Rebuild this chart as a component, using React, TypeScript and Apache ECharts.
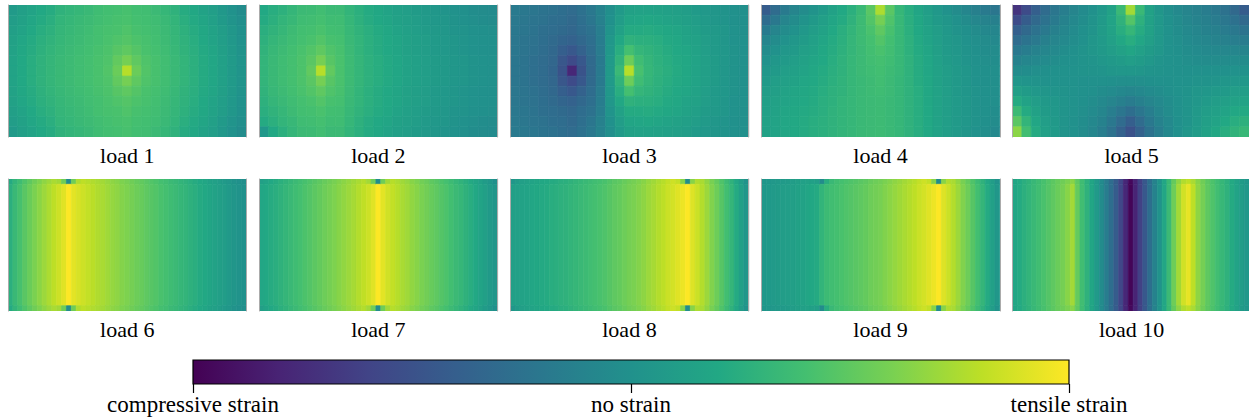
import React, { useEffect, useRef } from "react";
import * as echarts from "echarts";

// ---------- data (strain, -100 = compressive max, 0 = none, 100 = tensile max) ----------
const LOAD_LABELS = ["load 1", "load 2", "load 3", "load 4", "load 5", "load 6", "load 7", "load 8", "load 9", "load 10"];
const COLORBAR_TICKS = [-100, 0, 100];
const COLORBAR_LABELS = ["compressive strain", "no strain", "tensile strain"];
const VIRIDIS = ["#440154", "#482475", "#414487", "#355f8d", "#2a788e", "#21918c", "#22a884", "#44bf70", "#7ad151", "#bddf26", "#fde725"];

// 2-D fields (13 rows x 25 columns, top row first)
const LOAD1 = [
  [8, 12, 16, 20, 23, 28, 30, 32, 34, 37, 39, 40, 41, 39, 38, 35, 32, 28, 23, 19, 15, 11, 6, 1, -4],
  [10, 14, 18, 22, 25, 30, 32, 34, 36, 38, 40, 41, 42, 40, 39, 37, 34, 30, 25, 21, 17, 13, 8, 3, -2],
  [12, 16, 20, 24, 27, 31, 33, 35, 37, 40, 41, 42, 44, 41, 40, 38, 35, 31, 27, 23, 19, 15, 10, 5, 0],
  [14, 18, 22, 26, 29, 32, 34, 36, 38, 40, 42, 44, 46, 43, 41, 39, 36, 32, 28, 24, 20, 16, 11, 6, 1],
  [15, 19, 23, 27, 30, 33, 35, 37, 39, 41, 43, 47, 50, 46, 42, 40, 37, 33, 29, 25, 21, 17, 12, 7, 2],
  [16, 20, 24, 28, 31, 34, 36, 38, 40, 42, 44, 51, 58, 50, 44, 41, 38, 34, 30, 26, 22, 18, 13, 8, 3],
  [16, 20, 24, 28, 31, 34, 36, 38, 40, 42, 45, 54, 78, 54, 45, 41, 38, 34, 30, 26, 22, 18, 13, 8, 3],
  [16, 20, 24, 28, 31, 34, 36, 38, 40, 42, 44, 51, 58, 50, 44, 41, 38, 34, 30, 26, 22, 18, 13, 8, 3],
  [15, 19, 23, 27, 30, 33, 35, 37, 39, 41, 43, 47, 50, 46, 42, 40, 37, 33, 29, 25, 21, 17, 12, 7, 2],
  [14, 18, 22, 26, 29, 32, 34, 36, 38, 40, 42, 44, 46, 43, 41, 39, 36, 32, 28, 24, 20, 16, 11, 6, 1],
  [12, 16, 20, 24, 27, 31, 33, 35, 37, 40, 41, 42, 44, 41, 40, 38, 35, 31, 27, 23, 19, 15, 10, 5, 0],
  [10, 14, 18, 22, 25, 30, 32, 34, 36, 38, 40, 41, 42, 40, 39, 37, 34, 30, 25, 21, 17, 13, 8, 3, -2],
  [8, 12, 16, 20, 23, 28, 30, 32, 34, 37, 39, 40, 41, 39, 38, 35, 32, 28, 23, 19, 15, 11, 6, 1, -4],
];

const LOAD2 = [
  [20, 24, 27, 31, 35, 36, 38, 35, 35, 30, 26, 22, 19, 16, 13, 11, 9, 7, 5, 3, 1, -1, -3, -4, -5],
  [22, 26, 30, 33, 37, 38, 40, 37, 37, 32, 27, 23, 20, 17, 14, 12, 10, 8, 6, 4, 2, 0, -2, -3, -4],
  [25, 29, 32, 36, 39, 40, 42, 39, 38, 33, 29, 25, 22, 19, 16, 13, 11, 9, 7, 5, 3, 2, 0, -1, -2],
  [27, 31, 34, 37, 40, 42, 45, 41, 40, 34, 30, 26, 23, 20, 17, 14, 12, 10, 8, 6, 4, 3, 1, 0, -1],
  [29, 33, 36, 39, 42, 45, 50, 44, 41, 35, 30, 26, 23, 20, 17, 14, 12, 10, 8, 6, 4, 3, 1, 0, -1],
  [30, 34, 37, 40, 43, 48, 58, 47, 42, 36, 31, 27, 24, 21, 18, 15, 13, 11, 9, 7, 5, 4, 2, 1, 0],
  [30, 34, 37, 40, 43, 51, 78, 51, 42, 36, 31, 27, 24, 21, 18, 15, 13, 11, 9, 7, 5, 4, 2, 1, 0],
  [30, 34, 37, 40, 43, 48, 58, 47, 42, 36, 31, 27, 24, 21, 18, 15, 13, 11, 9, 7, 5, 4, 2, 1, 0],
  [29, 33, 36, 39, 42, 45, 50, 44, 41, 35, 30, 26, 23, 20, 17, 14, 12, 10, 8, 6, 4, 3, 1, 0, -1],
  [27, 31, 34, 37, 40, 42, 45, 41, 40, 34, 30, 26, 23, 20, 17, 14, 12, 10, 8, 6, 4, 3, 1, 0, -1],
  [25, 29, 32, 36, 39, 40, 42, 39, 38, 33, 29, 25, 22, 19, 16, 13, 11, 9, 7, 5, 3, 2, 0, -1, -2],
  [22, 26, 30, 33, 37, 38, 40, 37, 37, 32, 27, 23, 20, 17, 14, 12, 10, 8, 6, 4, 2, 0, -2, -3, -4],
  [6, 20, 26, 31, 35, 36, 38, 35, 35, 30, 26, 22, 19, 16, 13, 11, 9, 7, 5, 3, 1, -1, -3, -4, -5],
];

const LOAD3 = [
  [-18, -20, -22, -24, -26, -28, -30, -26, -20, -12, -2, 8, 14, 15, 15, 14, 13, 12, 10, 8, 6, 4, 2, 0, -1],
  [-19, -21, -23, -25, -28, -29, -32, -27, -22, -13, 0, 10, 17, 18, 19, 17, 16, 14, 12, 10, 8, 5, 3, 0, -1],
  [-20, -22, -24, -27, -29, -31, -34, -29, -25, -15, 3, 14, 22, 22, 23, 21, 19, 17, 15, 12, 9, 7, 4, 1, -1],
  [-21, -23, -25, -28, -31, -35, -38, -33, -27, -16, 5, 19, 28, 26, 26, 24, 21, 19, 16, 14, 10, 8, 4, 1, 0],
  [-21, -23, -26, -29, -33, -40, -45, -38, -29, -17, 6, 24, 40, 31, 29, 26, 23, 20, 18, 15, 11, 8, 5, 2, 0],
  [-22, -24, -27, -30, -34, -46, -55, -45, -31, -18, 8, 29, 55, 37, 31, 27, 24, 21, 19, 16, 12, 9, 5, 2, 0],
  [-22, -24, -27, -30, -35, -49, -78, -49, -32, -18, 8, 34, 78, 41, 32, 28, 25, 22, 19, 16, 12, 9, 5, 2, 0],
  [-22, -24, -27, -30, -34, -46, -55, -45, -31, -18, 8, 29, 55, 37, 31, 27, 24, 21, 19, 16, 12, 9, 5, 2, 0],
  [-21, -23, -26, -29, -33, -40, -45, -38, -29, -17, 6, 24, 40, 31, 29, 26, 23, 20, 18, 15, 11, 8, 5, 2, 0],
  [-21, -23, -25, -28, -31, -35, -38, -33, -27, -16, 5, 19, 28, 26, 26, 24, 21, 19, 16, 14, 10, 8, 4, 1, 0],
  [-20, -22, -24, -27, -29, -31, -34, -29, -25, -15, 3, 14, 22, 22, 23, 21, 19, 17, 15, 12, 9, 7, 4, 1, -1],
  [-19, -21, -23, -25, -28, -29, -32, -27, -22, -13, 0, 10, 17, 18, 19, 17, 16, 14, 12, 10, 8, 5, 3, 0, -1],
  [-18, -20, -22, -24, -26, -28, -30, -26, -20, -12, -2, 8, 14, 15, 15, 14, 13, 12, 10, 8, 6, 4, 2, 0, -1],
];

const LOAD4 = [
  [-42, -30, -18, -10, -4, 2, 8, 14, 20, 26, 34, 48, 75, 48, 32, 24, 17, 11, 6, 1, -4, -9, -14, -18, -22],
  [-30, -20, -10, -4, 2, 7, 12, 17, 22, 28, 36, 45, 58, 44, 33, 25, 19, 13, 8, 4, 0, -4, -8, -11, -14],
  [-18, -10, -4, 1, 6, 10, 15, 20, 25, 30, 36, 42, 50, 41, 33, 26, 20, 15, 10, 6, 2, -1, -4, -7, -9],
  [-10, -4, 1, 5, 9, 13, 17, 22, 26, 31, 36, 40, 45, 39, 33, 27, 21, 16, 11, 7, 4, 1, -2, -4, -6],
  [-4, 1, 5, 8, 12, 15, 19, 23, 27, 31, 35, 39, 42, 38, 33, 27, 22, 17, 12, 8, 5, 2, -1, -3, -4],
  [1, 5, 8, 11, 14, 17, 20, 24, 28, 32, 35, 38, 40, 37, 33, 28, 23, 18, 13, 9, 6, 3, 0, -2, -3],
  [5, 8, 11, 13, 16, 19, 22, 25, 28, 32, 35, 37, 39, 36, 33, 28, 23, 18, 14, 10, 7, 4, 1, -1, -2],
  [8, 11, 13, 15, 18, 20, 23, 26, 29, 32, 34, 36, 38, 35, 32, 28, 23, 19, 14, 10, 7, 4, 1, -1, -2],
  [10, 12, 15, 17, 19, 21, 24, 27, 29, 32, 34, 36, 37, 35, 32, 28, 24, 19, 15, 11, 7, 4, 2, 0, -2],
  [12, 14, 16, 18, 20, 22, 25, 27, 30, 32, 34, 35, 36, 34, 32, 28, 24, 19, 15, 11, 8, 5, 2, 0, -2],
  [13, 15, 17, 19, 21, 23, 25, 28, 30, 32, 34, 35, 36, 34, 32, 28, 24, 20, 15, 11, 8, 5, 2, 0, -3],
  [14, 16, 18, 20, 22, 24, 26, 28, 30, 32, 34, 35, 36, 34, 32, 28, 24, 20, 15, 11, 8, 5, 2, -1, -4],
  [14, 16, 18, 20, 22, 24, 26, 28, 30, 32, 34, 35, 36, 34, 32, 28, 24, 20, 15, 11, 8, 4, 1, -2, -6],
];

const LOAD5 = [
  [-70, -55, -40, -30, -22, -15, -10, -5, 0, 6, 14, 34, 72, 34, 14, 4, -2, -6, -10, -13, -16, -20, -25, -32, -42],
  [-55, -42, -32, -25, -18, -12, -7, -3, 2, 8, 16, 28, 46, 27, 14, 6, 0, -4, -8, -11, -14, -17, -21, -26, -32],
  [-40, -32, -25, -19, -14, -9, -5, -1, 3, 9, 15, 24, 32, 23, 14, 6, 1, -3, -6, -9, -12, -14, -17, -20, -24],
  [-30, -24, -19, -14, -10, -6, -3, 0, 4, 8, 13, 19, 24, 18, 12, 6, 1, -2, -5, -7, -9, -11, -13, -15, -17],
  [-20, -16, -12, -9, -6, -3, -1, 2, 4, 7, 10, 14, 17, 13, 9, 5, 1, -1, -3, -5, -6, -7, -8, -9, -10],
  [-12, -9, -7, -5, -3, -1, 0, 2, 3, 5, 7, 9, 11, 9, 6, 3, 1, 0, -2, -3, -4, -4, -4, -4, -4],
  [-4, -3, -2, -1, 0, 1, 1, 2, 2, 3, 4, 5, 5, 4, 3, 2, 1, 0, 0, 0, 0, 0, 0, 1, 1],
  [4, 3, 2, 1, 1, 1, 1, 0, 0, 0, -1, -2, -2, -2, -1, 0, 0, 1, 1, 2, 2, 3, 4, 5, 6],
  [12, 9, 6, 4, 3, 2, 1, 0, -1, -3, -5, -7, -9, -7, -5, -3, -1, 1, 2, 4, 5, 7, 8, 10, 11],
  [22, 15, 10, 7, 5, 3, 1, -1, -3, -6, -10, -14, -17, -14, -10, -6, -3, 0, 3, 5, 8, 10, 12, 14, 16],
  [35, 22, 14, 9, 6, 3, 1, -2, -5, -9, -15, -22, -28, -22, -15, -9, -4, 0, 3, 7, 10, 13, 16, 19, 21],
  [48, 30, 18, 11, 7, 3, 0, -3, -7, -12, -20, -30, -40, -30, -20, -12, -6, -1, 3, 8, 12, 16, 20, 24, 27],
  [65, 38, 22, 13, 8, 3, 0, -4, -9, -15, -25, -38, -50, -38, -25, -15, -7, -1, 4, 9, 14, 19, 24, 29, 33],
];

// 1-D profiles (49 columns) for the body of loads 6-10 ...
const LOAD6 = [26, 34, 41, 48, 54, 60, 65, 70, 75, 80, 85, 91, 100, 92, 88, 85, 82, 79, 76, 74, 71, 68, 66, 63, 61, 58, 55, 53, 50, 47, 45, 42, 40, 37, 35, 32, 30, 27, 25, 22, 20, 17, 15, 12, 10, 7, 4, 2, 0];
const LOAD7 = [18, 20, 23, 25, 28, 31, 34, 37, 40, 43, 46, 49, 52, 55, 58, 61, 64, 67, 70, 73, 77, 81, 85, 91, 100, 92, 86, 82, 78, 74, 71, 67, 64, 60, 57, 53, 50, 46, 43, 39, 35, 32, 28, 24, 20, 16, 12, 8, 4];
const LOAD8 = [12, 13, 15, 16, 18, 19, 21, 22, 24, 25, 27, 28, 30, 32, 34, 36, 38, 40, 42, 44, 47, 50, 52, 55, 58, 60, 63, 66, 70, 73, 77, 80, 84, 87, 91, 95, 100, 90, 84, 77, 70, 62, 55, 47, 39, 31, 22, 13, 5];
const LOAD9 = [6, 7, 8, 9, 10, 11, 12, 14, 15, 17, 19, 22, 30, 36, 38, 40, 42, 44, 46, 48, 50, 52, 55, 57, 59, 62, 65, 68, 71, 74, 77, 80, 84, 87, 91, 95, 100, 90, 84, 77, 70, 62, 55, 47, 39, 31, 22, 13, 5];
const LOAD10 = [18, 22, 26, 30, 34, 38, 42, 46, 50, 54, 58, 64, 72, 52, 38, 28, 18, 8, -4, -16, -28, -42, -58, -78, -98, -80, -62, -45, -28, -12, 2, 18, 35, 55, 72, 86, 93, 80, 66, 58, 50, 44, 38, 33, 28, 22, 16, 10, 6];
// ... and for their thin top / bottom edge strips (with the support points)
const EDGE6 = [22, 30, 37, 44, 50, 56, 61, 66, 70, 74, 72, 56, -4, 56, 76, 80, 78, 76, 74, 72, 69, 66, 64, 61, 59, 56, 53, 51, 48, 45, 43, 40, 38, 35, 33, 30, 28, 25, 23, 20, 18, 15, 13, 10, 8, 5, 2, 0, -2];
const EDGE7 = [12, 16, 20, 23, 26, 29, 32, 35, 38, 41, 44, 47, 50, 53, 56, 59, 62, 65, 68, 71, 74, 77, 72, 56, -4, 56, 72, 78, 75, 71, 68, 64, 61, 57, 54, 50, 47, 43, 40, 36, 32, 29, 25, 21, 17, 13, 9, 5, 0];
const EDGE8 = [4, 9, 12, 14, 16, 17, 19, 20, 22, 23, 25, 26, 28, 30, 32, 34, 36, 38, 40, 42, 45, 48, 50, 53, 56, 58, 61, 64, 68, 71, 75, 78, 82, 85, 82, 64, -4, 64, 76, 74, 67, 59, 52, 44, 36, 28, 19, 10, 2];
const EDGE9 = [4, 5, 6, 7, 8, 9, 10, 12, 13, 14, 13, 12, -4, 24, 34, 38, 40, 42, 44, 46, 48, 50, 53, 55, 57, 60, 63, 66, 69, 72, 75, 78, 82, 85, 82, 64, -4, 64, 76, 74, 67, 59, 52, 44, 36, 28, 19, 10, 2];
const EDGE10 = [17, 21, 25, 29, 33, 37, 41, 45, 49, 53, 56, 60, 64, 50, 37, 27, 17, 7, -5, -17, -29, -42, -58, -78, -96, -80, -62, -45, -28, -12, 2, 18, 34, 52, 66, 76, 80, 74, 64, 56, 49, 43, 37, 32, 27, 21, 15, 9, 5];

const FIELDS_2D = [LOAD1, LOAD2, LOAD3, LOAD4, LOAD5];
const PROFILES = [LOAD6, LOAD7, LOAD8, LOAD9, LOAD10];
const EDGES = [EDGE6, EDGE7, EDGE8, EDGE9, EDGE10];

// ---------- layout ----------
const PANEL_LEFT0 = 8;
const PANEL_STEP = 251.1;
const PANEL_W = 238.5;
const PANEL_H = 132;
const ROW_TOPS = [5, 179];
const LABEL_Y = [155.5, 329.5];
const BAND_EDGES = [0, 4, 96, 100]; // % of panel height: top strip, body, bottom strip
const FONT = "'Liberation Serif', 'Times New Roman', serif";
const EDGE_GREY = "#ababab";

const idx = (n: number) => Array.from({ length: n }, (_, i) => String(i));

// one colour cell per data item (regular grid), coloured through the visualMap
const renderCell = (_params: any, api: any) => {
  const c = api.coord([api.value(0), api.value(1)]);
  const s = api.size([1, 1]);
  const color = api.visual("color");
  return {
    type: "rect",
    shape: { x: c[0] - s[0] / 2, y: c[1] - s[1] / 2, width: s[0], height: s[1] },
    style: { fill: color, stroke: color, lineWidth: 0.7 },
  };
};

// one column cell of a band (top strip / body / bottom strip)
const renderBand = (_params: any, api: any) => {
  const x = api.value(0);
  const b = api.value(1);
  const p0 = api.coord([x, BAND_EDGES[b]]);
  const p1 = api.coord([x, BAND_EDGES[b + 1]]);
  const w = api.size([1, 0])[0];
  const color = api.visual("color");
  return {
    type: "rect",
    shape: { x: p0[0] - w / 2, y: Math.min(p0[1], p1[1]), width: w, height: Math.abs(p1[1] - p0[1]) },
    style: { fill: color, stroke: color, lineWidth: 0.7 },
  };
};

const edgeAxisLine = { show: true, onZero: false, lineStyle: { color: EDGE_GREY, width: 1 } };

function buildOption() {
  const grid: any[] = [];
  const xAxis: any[] = [];
  const yAxis: any[] = [];
  const series: any[] = [];
  const graphic: any[] = [];

  for (let i = 0; i < 10; i++) {
    const row = i < 5 ? 0 : 1;
    const col = i % 5;
    const left = PANEL_LEFT0 + col * PANEL_STEP;
    const top = ROW_TOPS[row];
    grid.push({ left, top, width: PANEL_W, height: PANEL_H, containLabel: false });

    if (i < 5) {
      const f = FIELDS_2D[i];
      xAxis.push({ gridIndex: i, type: "category", data: idx(f[0].length), show: false });
      yAxis.push({
        gridIndex: i, type: "category", data: idx(f.length), inverse: true, z: 10,
        axisLine: edgeAxisLine, axisTick: { show: false }, axisLabel: { show: false }, splitLine: { show: false },
      });
      series.push({
        type: "custom", xAxisIndex: i, yAxisIndex: 2 * i, clip: true, encode: { x: 0, y: 1 },
        renderItem: renderCell,
        data: f.flatMap((r, y) => r.map((v, x) => [x, y, v])),
      });
    } else {
      const p = PROFILES[i - 5];
      const e = EDGES[i - 5];
      xAxis.push({ gridIndex: i, type: "category", data: idx(p.length), show: false });
      yAxis.push({
        gridIndex: i, type: "value", min: 0, max: 100, inverse: true, z: 10,
        axisLine: edgeAxisLine, axisTick: { show: false }, axisLabel: { show: false }, splitLine: { show: false },
      });
      series.push({
        type: "custom", xAxisIndex: i, yAxisIndex: 2 * i, clip: true, encode: { x: 0, y: 1 },
        renderItem: renderBand,
        data: p.flatMap((v, x) => [[x, 0, e[x]], [x, 1, v], [x, 2, e[x]]]),
      });
    }
    yAxis.push({
      gridIndex: i, type: "value", position: "right", z: 10,
      axisLine: edgeAxisLine, axisTick: { show: false }, axisLabel: { show: false }, splitLine: { show: false },
    });
    graphic.push({
      type: "text",
      x: left + PANEL_W / 2,
      y: LABEL_Y[row],
      style: {
        text: LOAD_LABELS[i],
        fill: "#000",
        fontSize: 22,
        fontFamily: FONT,
        align: "center",
        verticalAlign: "middle",
        textAlign: "center",
        textVerticalAlign: "middle",
      },
    });
  }

  // colour bar
  grid.push({
    left: 193,
    top: 360,
    width: 876,
    height: 24,
    show: true,
    backgroundColor: new echarts.graphic.LinearGradient(
      0, 0, 1, 0,
      VIRIDIS.map((c, k) => ({ offset: k / (VIRIDIS.length - 1), color: c }))
    ),
    borderColor: "#000",
    borderWidth: 1.2,
  });
  xAxis.push({
    gridIndex: 10,
    type: "value",
    min: COLORBAR_TICKS[0],
    max: COLORBAR_TICKS[2],
    interval: 100,
    axisLine: { show: false },
    axisTick: { show: true, length: 9, lineStyle: { color: "#000", width: 1.2 } },
    axisLabel: {
      show: true,
      showMinLabel: true,
      showMaxLabel: true,
      margin: 9,
      color: "#000",
      fontSize: 23,
      fontFamily: FONT,
      formatter: (v: number) => {
        const k = COLORBAR_TICKS.indexOf(v);
        return k >= 0 ? COLORBAR_LABELS[k] : "";
      },
    },
    splitLine: { show: false },
  });
  yAxis.push({ gridIndex: 10, type: "value", show: false });

  return {
    animation: false,
    backgroundColor: "#fff",
    grid,
    xAxis,
    yAxis,
    visualMap: {
      type: "continuous",
      show: false,
      min: -100,
      max: 100,
      dimension: 2,
      seriesIndex: series.map((_, k) => k),
      inRange: { color: VIRIDIS },
    },
    series,
    graphic,
  };
}

export default function App() {
  const ref = useRef<HTMLDivElement>(null);
  useEffect(() => {
    if (!ref.current) return;
    const chart = echarts.init(ref.current, undefined, { renderer: "svg" });
    chart.setOption(buildOption() as any);
    return () => chart.dispose();
  }, []);
  return (
    <div
      ref={ref}
      style={{ position: "absolute", left: 0, top: 0, width: 1249, height: 420, background: "#fff" }}
    />
  );
}
